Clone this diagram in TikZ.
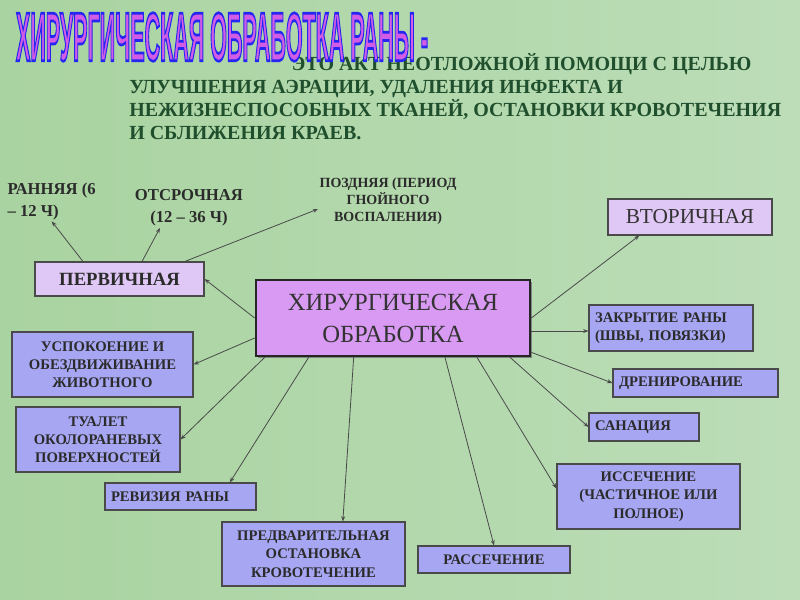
\documentclass[tikz,border=0pt]{standalone}
\usepackage{fontspec}
\setmainfont{Liberation Serif}
\newfontfamily\headfont{Liberation Sans}[BoldFeatures={FakeBold=4}]
\usepackage{graphicx}
\usepackage{xcolor}
\usetikzlibrary{arrows.meta,shadows}
\definecolor{bgleft}{HTML}{A9D3A0}
\definecolor{bgmid}{HTML}{D0E2B6}
\definecolor{bgright}{HTML}{BCDDB8}
\definecolor{bodygreen}{HTML}{1F4F2C}
\definecolor{lilac}{HTML}{E0C8F6}
\definecolor{periwinkle}{HTML}{A6A6F2}
\definecolor{corefill}{HTML}{D89AF2}
\definecolor{boxline}{HTML}{4A4A4A}
\definecolor{labelink}{HTML}{2B2B2B}
\definecolor{titlefill}{HTML}{D35CE6}
\newcommand\edgeblue{\special{pdf:code 0.149 0.149 0.949 RG}}
\tikzset{
    lilac-box/.style = {draw=boxline, fill=lilac, line width=0.8pt, rectangle, inner sep=2pt, text=labelink, font=\bfseries\fontsize{14}{17}\selectfont},
    blue-box/.style = {draw=boxline, fill=periwinkle, line width=0.8pt, rectangle, inner sep=2pt, align=center, text=labelink, font=\bfseries\fontsize{11}{13.7}\selectfont},
    left-box/.style = {blue-box, align=left, inner xsep=4.5pt},
    core-box/.style = {draw=black!85, fill=corefill, line width=2pt, rectangle, align=center, text=black!80, font=\fontsize{18.5}{24}\selectfont, drop shadow={shadow xshift=1.5pt, shadow yshift=-1.5pt, fill=black!55, opacity=0.8}},
    tag/.style = {inner sep=1pt, text=labelink, font=\bfseries\fontsize{12.5}{16.5}\selectfont},
    tag-small/.style = {inner sep=1pt, align=center, text=labelink, font=\bfseries\fontsize{10.5}{12.75}\selectfont},
    link/.style = {draw=boxline, line width=0.6pt, -{Stealth[length=4pt, width=3pt]}},
}

\begin{document}
\begin{tikzpicture}[x=0.75pt, y=-0.75pt]
\useasboundingbox (0,0) rectangle (800,600);
\shade[left color=bgleft, middle color=bgmid, right color=bgright] (0,0) rectangle (800,600);

\node[anchor=north west, align=left, inner sep=0pt, text=bodygreen, font=\bfseries\fontsize{15}{17.25}\selectfont] (intro) at (129,53)
    {\hspace*{122pt}ЭТО АКТ НЕОТЛОЖНОЙ ПОМОЩИ С ЦЕЛЬЮ\\
     УЛУЧШЕНИЯ АЭРАЦИИ, УДАЛЕНИЯ ИНФЕКТА И\\
     НЕЖИЗНЕСПОСОБНЫХ ТКАНЕЙ, ОСТАНОВКИ КРОВОТЕЧЕНИЯ\\
     И СБЛИЖЕНИЯ КРАЕВ.};
\node[inner sep=0pt, text=titlefill, font=\headfont\bfseries] (heading) at (222,37)
    {\resizebox{309pt}{36pt}{\edgeblue ХИРУРГИЧЕСКАЯ ОБРАБОТКА РАНЫ -}};

\node[tag, anchor=north west, align=left] (early) at (6,181) {РАННЯЯ (6\\– 12 Ч)};
\node[tag, align=center] (delayed) at (189,208) {ОТСРОЧНАЯ\\(12 – 36 Ч)};
\node[tag-small] (late) at (388,201) {ПОЗДНЯЯ (ПЕРИОД\\ГНОЙНОГО\\ВОСПАЛЕНИЯ)};

\node[lilac-box, minimum width=126.75pt, minimum height=25.5pt] (primary) at (119.5,279) {ПЕРВИЧНАЯ};
\node[lilac-box, font=\fontsize{16}{19}\selectfont, text=black!80, minimum width=123pt, minimum height=27pt] (secondary) at (690,217) {ВТОРИЧНАЯ};
\node[core-box, minimum width=205.5pt, minimum height=57pt] (core) at (393,318) {ХИРУРГИЧЕСКАЯ\\ОБРАБОТКА};

\node[blue-box, minimum width=135.75pt, minimum height=48.75pt] (calming) at (102.5,364.5) {УСПОКОЕНИЕ И\\ОБЕЗДВИЖИВАНИЕ\\ЖИВОТНОГО};
\node[blue-box, minimum width=123pt, minimum height=48.75pt] (toilet) at (98,439.5) {ТУАЛЕТ\\ОКОЛОРАНЕВЫХ\\ПОВЕРХНОСТЕЙ};
\node[left-box, text width=104.25pt, minimum height=20.25pt] (revision) at (180.5,496.5) {РЕВИЗИЯ РАНЫ};
\node[blue-box, minimum width=137.25pt, minimum height=48pt] (bleeding) at (313.5,554) {ПРЕДВАРИТЕЛЬНАЯ\\ОСТАНОВКА\\КРОВОТЕЧЕНИЕ};
\node[blue-box, minimum width=114pt, minimum height=20.25pt] (dissection) at (494,559.5) {РАССЕЧЕНИЕ};
\node[blue-box, minimum width=137.25pt, minimum height=48.75pt] (excision) at (648.5,496.5) {ИССЕЧЕНИЕ\\(ЧАСТИЧНОЕ ИЛИ\\ПОЛНОЕ)};
\node[left-box, text width=73.5pt, minimum height=21pt] (sanation) at (644,427) {САНАЦИЯ};
\node[left-box, text width=114.75pt, minimum height=21pt] (drainage) at (695.5,383) {ДРЕНИРОВАНИЕ};
\node[left-box, text width=114pt, minimum height=34.5pt] (closure) at (671,328) {ЗАКРЫТИЕ РАНЫ\\(ШВЫ, ПОВЯЗКИ)};

\draw[link] ([xshift=-27.4pt]primary.north) -- (early.south);
\draw[link] ([xshift=16.9pt]primary.north) -- ([xshift=-21.75pt]delayed.south);
\draw[link] ([xshift=49pt]primary.north) -- ([yshift=-6pt]late.west);

\draw[link] (core.west) -- (primary.east);
\draw[link] ([yshift=-15pt]core.west) -- (calming.east);
\draw[link] ([xshift=7.5pt]core.south west) -- (toilet.east);
\draw[link] ([xshift=40.5pt]core.south west) -- ([xshift=37pt]revision.north);
\draw[link] ([xshift=74.25pt]core.south west) -- ([xshift=22pt]bleeding.north);
\draw[link] ([xshift=39pt]core.south) -- (dissection.north);
\draw[link] ([xshift=63pt]core.south) -- ([yshift=6pt]excision.west);
\draw[link] ([xshift=87.75pt]core.south) -- (sanation.west);
\draw[link] ([yshift=3.75pt]core.south east) -- (drainage.west);
\draw[link] ([yshift=-9.75pt]core.east) -- ([yshift=-2.25pt]closure.west);
\draw[link] (core.east) -- ([xshift=-38pt]secondary.south);
\end{tikzpicture}
\end{document}
